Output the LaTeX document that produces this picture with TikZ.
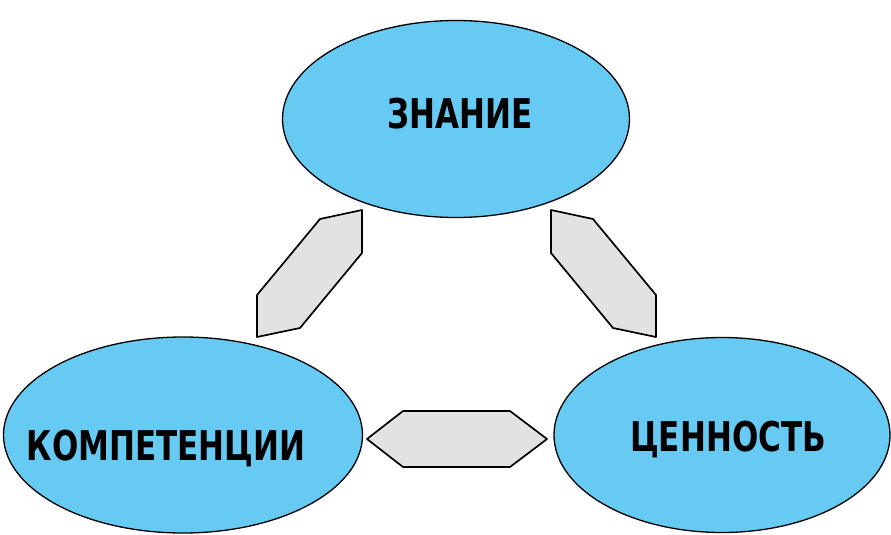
\documentclass[tikz,border=0pt]{standalone}
\usepackage{fontspec}
\newfontfamily\labelfont{DejaVu Sans Condensed}[FakeStretch=0.84]
\usetikzlibrary{shapes.geometric}

\definecolor{ideablue}{RGB}{102,202,243}
\definecolor{linkgray}{RGB}{226,226,226}

\begin{document}
\begin{tikzpicture}[x=1pt, y=-1pt,
        idea/.style={ellipse, draw=black, line width=1.3pt, fill=ideablue, inner sep=0pt},
        caption/.style={inner sep=0pt, font=\labelfont\bfseries\fontsize{41}{41}\selectfont,
                        text height=30pt, text depth=0pt},
        link/.style={draw=black, line width=1.7pt, fill=linkgray, line join=round}]
        \useasboundingbox (0, 0) rectangle (891, 535);

        % Ovals:
        \node[idea, minimum width=347pt, minimum height=197pt] (znanie) at (456, 119) {};
        \node[idea, minimum width=359pt, minimum height=196pt] (kompetencii) at (183, 435) {};
        \node[idea, minimum width=336pt, minimum height=195pt] (tsennost) at (722, 435) {};

        % Captions:
        \node[caption] (znanie-text) at (460, 113) {ЗНАНИЕ};
        \node[caption] (kompetencii-text) at (166, 445) {КОМПЕТЕНЦИИ};
        \node[caption] (tsennost-text) at (728, 436) {ЦЕННОСТЬ};

        % Links between ovals:
        \draw[link] (362, 210) -- (362, 253) -- (300, 328) -- (257, 337) -- (257, 295) -- (320, 219) -- cycle;
        \draw[link] (551, 210) -- (551, 253) -- (613, 328) -- (656, 337) -- (656, 295) -- (593, 219) -- cycle;
        \draw[link] (367, 439) -- (403, 411) -- (510, 411) -- (547, 439) -- (510, 467) -- (403, 467) -- cycle;
    \end{tikzpicture}
\end{document}
